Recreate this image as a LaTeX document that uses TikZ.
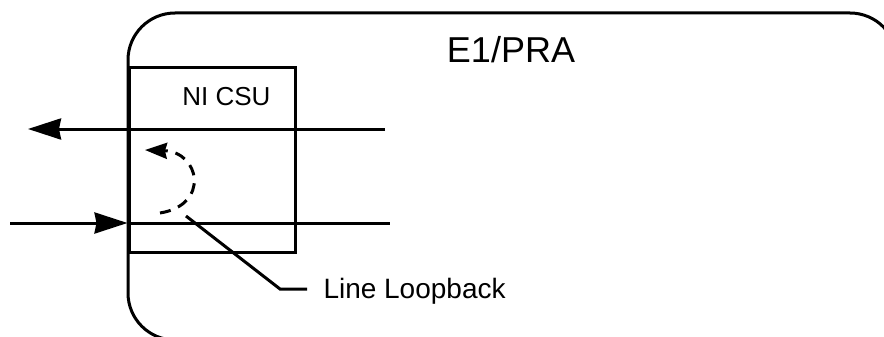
\documentclass[tikz,border=0pt]{standalone}
\usepackage{fontspec}
\setmainfont{Liberation Sans}
\usetikzlibrary{arrows.meta}

\tikzset{
    box/.style={draw, line width=3pt, inner sep=0pt},
    bigarrow/.style={line width=3pt, -{Stealth[length=33pt,width=21pt,inset=2pt]}},
    looparrow/.style={line width=3pt, dash pattern=on 11pt off 8pt, -{Stealth[length=22pt,width=16pt,inset=2pt]}},
}

\begin{document}
\begin{tikzpicture}[x=1pt,y=-1pt]
    \useasboundingbox (0,0) rectangle (884,337);
    \clip (0,0) rectangle (884,337);
    \begin{scope}[line width=3pt,font=\fontsize{28}{30}\selectfont]

        % E1/PRA unit, cut off at the right and at the bottom
        \draw [rounded corners=47pt] (960,340) -- (128,340) -- (128,13) -- (897,13) -- (897,420);
        \node [inner sep=0pt, anchor=base, font=\fontsize{36}{40}\selectfont] (unitlabel) at (511,63) {E1/PRA};

        \node [box, minimum width=166pt, minimum height=184pt] (csu) at (212,160) {};
        \node [inner sep=0pt, anchor=base east, font=\fontsize{26}{28}\selectfont] (csulabel) at (272,106) {NI CSU};

        % transmit and receive lines
        \coordinate (txin)  at (385,129);
        \coordinate (txout) at (28,129);
        \draw [bigarrow] (txin) -- (txout);

        \coordinate (rxin)  at (10,223);
        \coordinate (rxout) at (390,223);
        \draw [bigarrow] (rxin) -- (rxin -| csu.west);
        \draw (rxin -| csu.west) -- (rxout);

        % loopback
        \coordinate (loopstart) at (160,213);
        \coordinate (loopend)   at (145,150);
        \draw [looparrow] (loopstart) .. controls (210,205) and (200,152) .. (loopend);

        \node [inner sep=0pt, anchor=base west] (looplabel) at (322,298) {Line Loopback};
        \coordinate (leadstart) at (186,216);
        \coordinate (leadbend)  at (280,289);
        \coordinate (leadend)   at (307,289);
        \draw (leadstart) -- (leadbend) -- (leadend);
    \end{scope}
\end{tikzpicture}
\end{document}
